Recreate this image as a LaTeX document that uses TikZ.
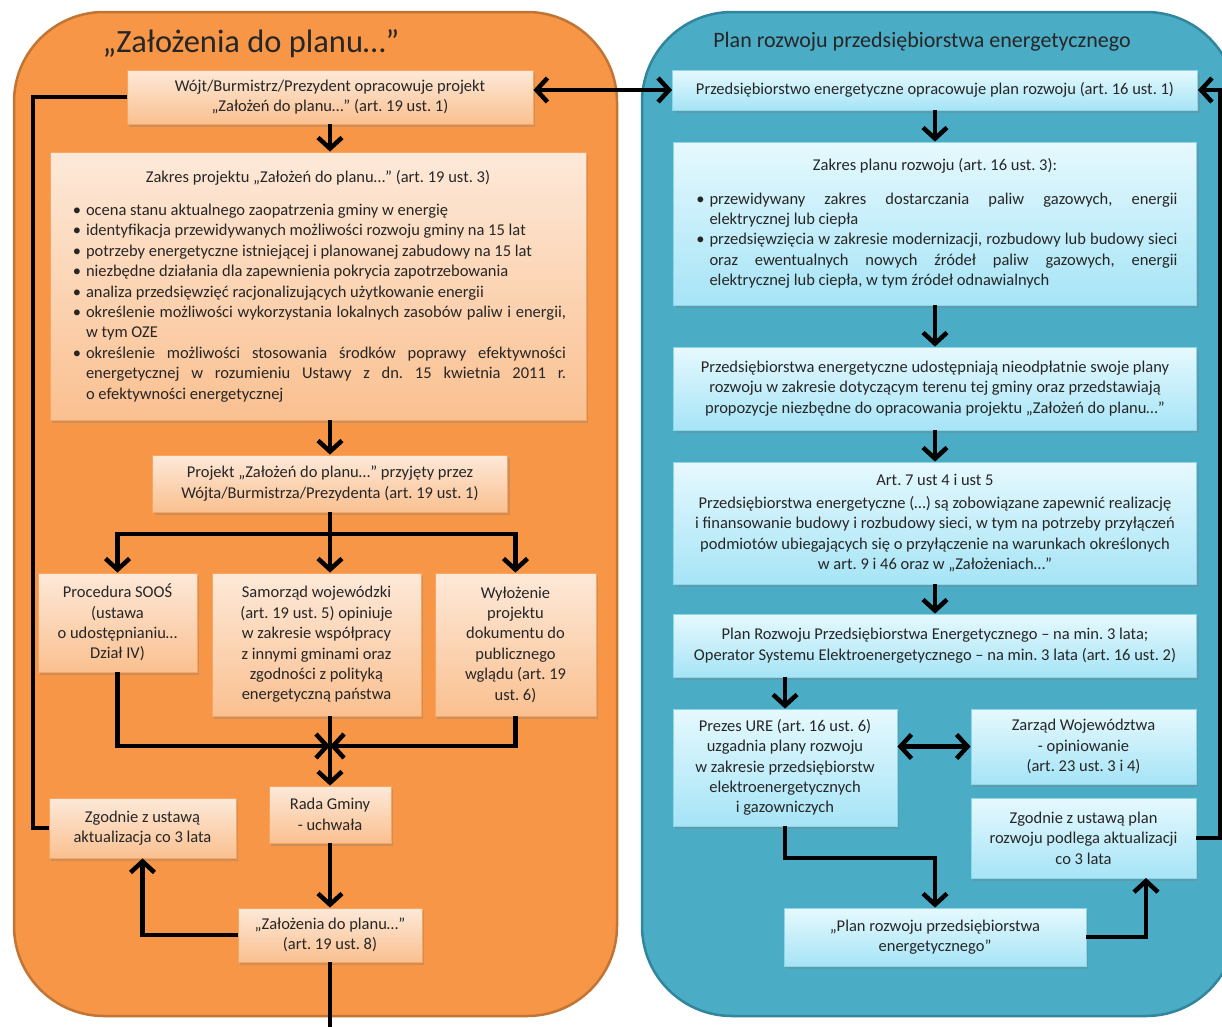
\documentclass[tikz,border=0pt]{standalone}
\usepackage{fontspec}
\setmainfont{Carlito}
\usepackage{enumitem}
\usetikzlibrary{arrows.meta,shadows}
\frenchspacing
\definecolor{panelO}{HTML}{F79646}
\definecolor{panelOd}{HTML}{C27434}
\definecolor{panelB}{HTML}{4BACC6}
\definecolor{panelBd}{HTML}{31859C}
\definecolor{boxOt}{HTML}{FDE9D9}
\definecolor{boxOb}{HTML}{FAC090}
\definecolor{boxOd}{HTML}{F9A55F}
\definecolor{boxBt}{HTML}{E6F9FE}
\definecolor{boxBb}{HTML}{A6E4F6}
\definecolor{boxBd}{HTML}{8BD6EA}
\definecolor{txt}{HTML}{262626}
\begin{document}
\begin{tikzpicture}[x=1pt,y=-1pt,>={Straight Barb[length=11pt,width=24pt]},
    obox/.style={draw=boxOd,line width=0.8pt,top color=boxOt,bottom color=boxOb,
      drop shadow={opacity=0.35,shadow xshift=2pt,shadow yshift=-3pt},
      align=center,text=txt,font=\fontsize{16.5}{20.4}\selectfont,inner sep=4pt},
    bbox/.style={obox,draw=boxBd,top color=boxBt,bottom color=boxBb},
    conn/.style={line width=4.5pt}]
  \useasboundingbox (0,0) rectangle (1222,1026);
  \draw[fill=panelO,draw=panelOd,line width=2.5pt,rounded corners=90pt](14,12)rectangle(617,1016);
  \draw[fill=panelB,draw=panelBd,line width=2.5pt,rounded corners=90pt](642,12)rectangle(1236,1016);
  \node[text=txt,font=\fontsize{32.5}{38}\selectfont](tl)at(251,44){„Założenia do planu…”};
  \node[text=txt,font=\fontsize{22}{26}\selectfont](tr)at(922,42){Plan rozwoju przedsiębiorstwa energetycznego};
  % left column
  \node[obox,minimum width=406pt,minimum height=54pt](L1)at(330,97)
    {Wójt/Burmistrz/Prezydent opracowuje projekt\\„Założeń do planu…” (art. 19 ust. 1)};
  \node[obox,minimum width=536pt,minimum height=268pt,text width=496pt,inner xsep=20pt,align=justify](L2)at(318,286){%
    {\centering Zakres projektu „Założeń do planu…” (art. 19 ust. 3)\par}
    \begin{itemize}[label=\textbullet,leftmargin=16pt,itemsep=0pt,parsep=0pt,topsep=13pt,partopsep=0pt]
    \item ocena stanu aktualnego zaopatrzenia gminy w energię
    \item identyfikacja przewidywanych możliwości rozwoju gminy na 15 lat
    \item potrzeby energetyczne istniejącej i planowanej zabudowy na 15 lat
    \item niezbędne działania dla zapewnienia pokrycia zapotrzebowania
    \item analiza przedsięwzięć racjonalizujących użytkowanie energii
    \item określenie możliwości wykorzystania lokalnych zasobów paliw i energii, \linebreak w~tym OZE
    \item określenie możliwości stosowania środków poprawy efektywności \linebreak energetycznej w rozumieniu Ustawy z dn. 15 kwietnia 2011 r. \linebreak o efektywności energetycznej
    \end{itemize}};
  \node[obox,minimum width=355pt,minimum height=57pt](L3)at(330,483.5)
    {Projekt „Założeń do planu…” przyjęty przez\\Wójta/Burmistrza/Prezydenta (art. 19 ust. 1)};
  \node[obox,minimum width=159pt,minimum height=99pt](L4a)at(117.5,622.5)
    {Procedura SOOŚ\\(ustawa\\o udostępnianiu…\\Dział IV)};
  \node[obox,minimum width=209pt,minimum height=143pt](L4b)at(316.5,644.5)
    {Samorząd wojewódzki\\(art. 19 ust. 5) opiniuje\\w zakresie współpracy\\z innymi gminami oraz\\zgodności z polityką\\energetyczną państwa};
  \node[obox,minimum width=161pt,minimum height=143pt](L4c)at(515.5,644.5)
    {Wyłożenie\\projektu\\dokumentu do\\publicznego\\wglądu (art. 19\\ust. 6)};
  \node[obox,minimum width=122pt,minimum height=57pt](L5)at(330,814.5){Rada Gminy\\- uchwała};
  \node[obox,minimum width=187pt,minimum height=60pt](L6)at(142.5,828){Zgodnie z ustawą\\aktualizacja co 3 lata};
  \node[obox,minimum width=184pt,minimum height=54pt](L7)at(330,935){„Założenia do planu…”\\(art. 19 ust. 8)};
  % right column
  \node[bbox,minimum width=525pt,minimum height=40pt](R1)at(935,90)
    {Przedsiębiorstwo energetyczne opracowuje plan rozwoju (art. 16 ust. 1)};
  \node[bbox,minimum width=523pt,minimum height=163pt,text width=485pt,inner xsep=19pt,align=justify](R2)at(935,223.5){%
    {\centering Zakres planu rozwoju (art. 16 ust. 3):\par}
    \begin{itemize}[label=\textbullet,leftmargin=17pt,itemsep=0pt,parsep=0pt,topsep=13pt,partopsep=0pt]
    \item przewidywany zakres dostarczania paliw gazowych, energii \linebreak elektrycznej lub ciepła
    \item przedsięwzięcia w zakresie modernizacji, rozbudowy lub budowy sieci \linebreak oraz ewentualnych nowych źródeł paliw gazowych, energii \linebreak elektrycznej lub ciepła, w tym źródeł odnawialnych
    \end{itemize}};
  \node[bbox,minimum width=523pt,minimum height=83pt](R3)at(935,388.5)
    {Przedsiębiorstwa energetyczne udostępniają nieodpłatnie swoje plany\\rozwoju w zakresie dotyczącym terenu tej gminy oraz przedstawiają\\propozycje niezbędne do opracowania projektu „Założeń do planu…”};
  \node[bbox,minimum width=523pt,minimum height=122pt](R4)at(935,523)
    {Art. 7 ust 4 i ust 5\\[3pt]Przedsiębiorstwa energetyczne (…) są zobowiązane zapewnić realizację\\i finansowanie budowy i rozbudowy sieci, w tym na potrzeby przyłączeń\\podmiotów ubiegających się o przyłączenie na warunkach określonych\\w art. 9 i 46 oraz w „Założeniach…”};
  \node[bbox,minimum width=523pt,minimum height=63pt](R5)at(935,645.5)
    {Plan Rozwoju Przedsiębiorstwa Energetycznego – na min. 3 lata;\\Operator Systemu Elektroenergetycznego – na min. 3 lata (art. 16 ust. 2)};
  \node[bbox,minimum width=224pt,minimum height=117pt](R6)at(785,767.5)
    {Prezes URE (art. 16 ust. 6)\\uzgadnia plany rozwoju\\w zakresie przedsiębiorstw\\elektroenergetycznych\\i gazowniczych};
  \node[bbox,minimum width=225pt,minimum height=75pt](R7)at(1083.5,746.5)
    {Zarząd Województwa\\- opiniowanie\\(art. 23 ust. 3 i 4)};
  \node[bbox,minimum width=225pt,minimum height=80pt](R8)at(1083.5,838)
    {Zgodnie z ustawą plan\\rozwoju podlega aktualizacji\\co 3 lata};
  \node[bbox,minimum width=302pt,minimum height=58pt](R9)at(935,937)
    {„Plan rozwoju przedsiębiorstwa\\energetycznego”};
  % connectors
  \coordinate(jt)at(330,534);
  \coordinate(jb)at(330,746);
  \coordinate(lk)at(33,97);
  \coordinate(lout)at(330,1030);
  \coordinate(rk)at(785,858);
  \coordinate(r8)at(1146,878);
  \coordinate(rr)at(1220,90);
  \draw[conn,->](L1)--(L1.south|-L2.north);
  \draw[conn,->](L2.south-|L3)--(L3);
  \draw[conn](L3)--(jt);
  \draw[conn,->](jt)-|(L4a);
  \draw[conn,->](jt)-|(L4c);
  \draw[conn,->](jt)--(jt|-L4b.north);
  \draw[conn,->](L4a)|-(jb);
  \draw[conn,->](L4c)|-(jb);
  \draw[conn,->](L4b.south-|jb)--(L5);
  \draw[conn,->](L5)--(L7);
  \draw[conn,->](L7)-|(L6);
  \draw[conn](L6)-|(lk)--(L1);
  \draw[conn](L7)--(lout);
  \draw[conn,<->](L1.east|-R1.west)--(R1.west);
  \draw[conn,->](R1)--(R2);
  \draw[conn,->](R2)--(R3);
  \draw[conn,->](R3)--(R4);
  \draw[conn,->](R4)--(R5);
  \draw[conn,->](R5.south-|R6.north)--(R6.north);
  \draw[conn,<->](R6.east|-R7.west)--(R7.west);
  \draw[conn,->](R6.south)|-(rk)-|(R9);
  \draw[conn,->](R9)-|(r8);
  \draw[conn,->](R8)-|(rr)--(R1);
\end{tikzpicture}
\end{document}
